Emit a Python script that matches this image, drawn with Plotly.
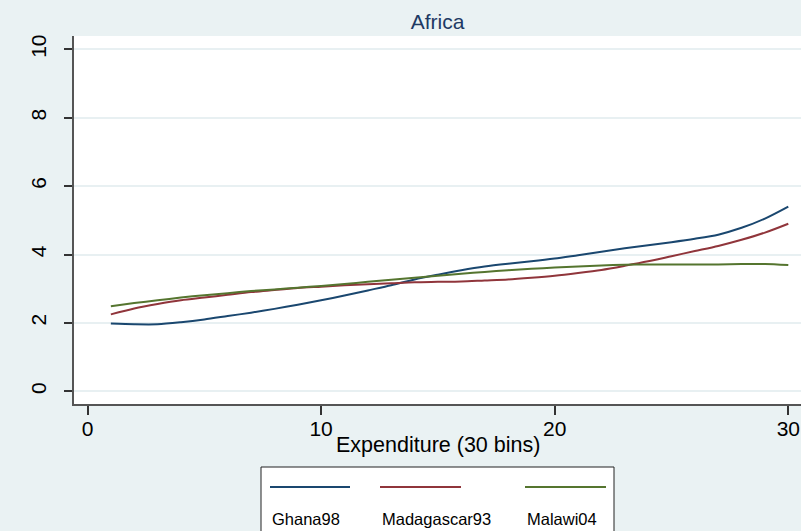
import plotly.graph_objects as go

bins = list(range(1, 31))
ghana98 = [1.98, 1.96, 1.96, 2.02, 2.10, 2.20, 2.30, 2.41, 2.53, 2.66,
           2.80, 2.95, 3.10, 3.27, 3.41, 3.54, 3.65, 3.73, 3.80, 3.88,
           3.98, 4.08, 4.18, 4.27, 4.36, 4.46, 4.58, 4.78, 5.05, 5.40]
madagascar93 = [2.25, 2.42, 2.55, 2.66, 2.74, 2.82, 2.90, 2.96, 3.02, 3.06,
                3.10, 3.13, 3.16, 3.19, 3.20, 3.21, 3.24, 3.27, 3.32, 3.38,
                3.46, 3.55, 3.67, 3.80, 3.95, 4.10, 4.25, 4.43, 4.64, 4.90]
malawi04 = [2.49, 2.58, 2.66, 2.74, 2.81, 2.87, 2.93, 2.98, 3.03, 3.08,
            3.14, 3.20, 3.26, 3.32, 3.38, 3.44, 3.49, 3.54, 3.58, 3.62,
            3.65, 3.68, 3.70, 3.71, 3.71, 3.71, 3.71, 3.72, 3.72, 3.69]
series_names = ["Ghana98", "Madagascar93", "Malawi04"]
series_colors = ["#1a476f", "#90353b", "#55752f"]
x_ticks = [0, 10, 20, 30]
y_ticks = [0, 2, 4, 6, 8, 10]
title_text = "Africa"
x_title = "Expenditure (30 bins)"

W, H = 801, 531
L, R, T, B = 74, 0, 36, 127
PW, PH = W - L - R, H - T - B

def px(xp):
    return (xp - L) / PW

def py(yp):
    return (H - B - yp) / PH

FONT = "Liberation Sans, Arial, sans-serif"

fig = go.Figure()
for name, vals, col in zip(series_names, [ghana98, madagascar93, malawi04], series_colors):
    fig.add_trace(go.Scatter(x=bins, y=vals, mode="lines", name=name,
                             line=dict(color=col, width=2, shape="spline", smoothing=0.8),
                             showlegend=False))

shapes = []
annotations = []
# legend box
shapes.append(dict(type="rect", xref="paper", yref="paper",
                   x0=px(261), x1=px(614), y0=py(545), y1=py(467),
                   fillcolor="white", line=dict(color="#222222", width=1)))
leg_lines = [(270, 350), (380, 461), (525, 606)]
for (a, b), name, col in zip(leg_lines, series_names, series_colors):
    shapes.append(dict(type="line", xref="paper", yref="paper",
                       x0=px(a), x1=px(b), y0=py(487), y1=py(487),
                       line=dict(color=col, width=2)))
    annotations.append(dict(text=name, xref="paper", yref="paper",
                            x=px(a), y=py(519), xanchor="left", yanchor="middle",
                            showarrow=False, font=dict(family=FONT, size=16.5, color="black")))
annotations.append(dict(text=x_title, xref="paper", yref="paper",
                        x=0.5, y=py(445), xanchor="center", yanchor="middle",
                        showarrow=False, font=dict(family=FONT, size=21.5, color="black")))

xmin = -(87.5 - L) / 23.36
xmax = xmin + PW / 23.36
ymin = -(H - B - 391.3) / 34.2
ymax = (391.3 - T) / 34.2

fig.update_layout(
    width=W, height=H,
    margin=dict(l=L, r=R, t=T, b=B, pad=0),
    paper_bgcolor="#eaf2f3", plot_bgcolor="white",
    title=dict(text=title_text, x=0.5, xref="paper", y=1 - 22 / H, yref="container",
               xanchor="center", yanchor="middle",
               font=dict(family=FONT, size=21, color="#1e3a64")),
    xaxis=dict(range=[xmin, xmax], tickvals=x_ticks, ticks="outside", ticklen=9,
               tickwidth=1.5, tickcolor="#333333", showgrid=False, zeroline=False,
               showline=True, linecolor="#555555", linewidth=2, ticklabelstandoff=-4,
               tickfont=dict(family=FONT, size=21, color="black")),
    yaxis=dict(range=[ymin, ymax], tickvals=y_ticks, ticks="outside", ticklen=8,
               tickwidth=1.5, tickcolor="#333333", showgrid=True, gridcolor="#e8f0f2",
               gridwidth=1.5, zeroline=False, showline=True, linecolor="#555555",
               linewidth=2, tickangle=-90, ticklabelstandoff=10,
               tickfont=dict(family=FONT, size=21, color="black")),
    shapes=shapes, annotations=annotations,
)
fig.write_html("out.html", config={"displayModeBar": False},
               post_script="document.body.style.margin='0';document.body.style.overflow='hidden';")
